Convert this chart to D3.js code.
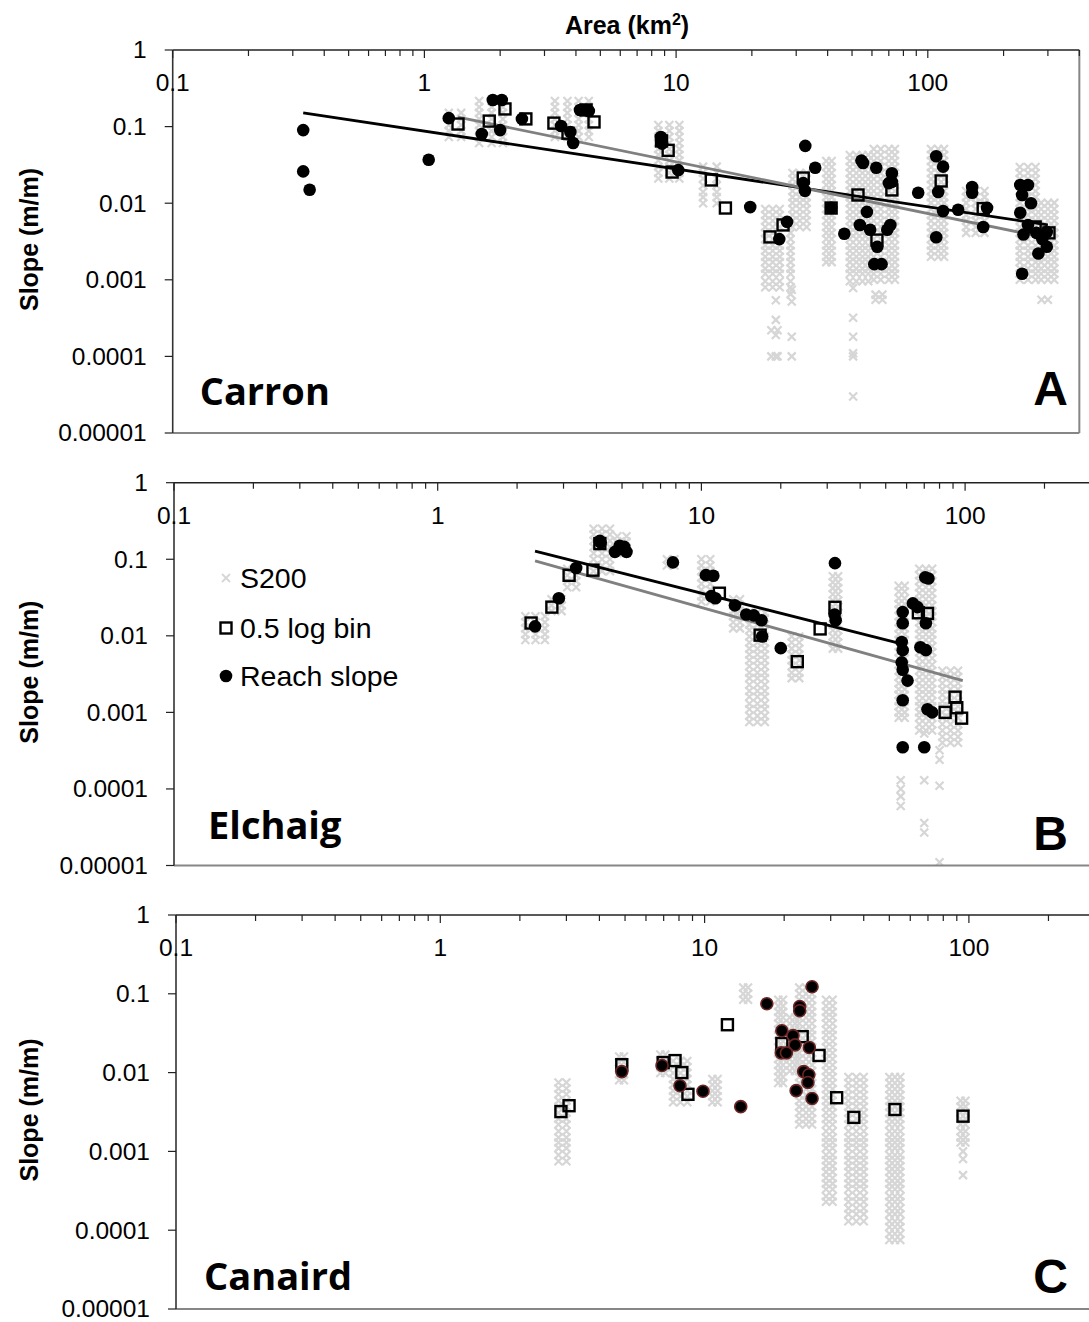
<!DOCTYPE html>
<meta charset="utf-8">
<style>
body { margin: 0; background: #fff; }
svg text { font-family: "Liberation Sans", Arial, sans-serif; fill: #000; }
.tick-label { font-size: 24.5px; }
.axis-title { font-size: 25px; font-weight: bold; }
.site { font-family: "Open Sans", sans-serif; font-weight: bold; font-size: 38px; }
.letter { font-weight: bold; font-size: 48px; }
.legend { font-size: 28.5px; }
</style>
<svg width="1089" height="1322"></svg>
<script src="https://d3js.org/d3.v7.min.js"></script>
<script>

// Slope tick labels (y) and area tick labels (x)
var yTicks = [1, 0.1, 0.01, 0.001, 0.0001, 0.00001];
var yTickLabels = ["1", "0.1", "0.01", "0.001", "0.0001", "0.00001"];
var xTicks = [0.1, 1, 10, 100];
var xTickLabels = ["0.1", "1", "10", "100"];

// S200 columns: [areas across the column, slopes down the column]
var s200A = [
  [[1.25, 1.4], [0.151, 0.126, 0.105, 0.088, 0.073]],
  [[1.65, 1.85, 2.05], [0.216, 0.18, 0.151, 0.126, 0.105, 0.088, 0.073, 0.061]],
  [[3.3, 3.7, 4.1, 4.5], [0.216, 0.18, 0.151, 0.126, 0.105, 0.088, 0.073]],
  [[8.5, 9.4, 10.3], [0.105, 0.088, 0.073, 0.061, 0.051, 0.043, 0.036, 0.03, 0.025, 0.021]],
  [[12.8, 14.5], [0.03, 0.025, 0.021, 0.017, 0.014, 0.012, 0.01]],
  [[22.6, 24.2, 25.8], [0.0084, 0.007, 0.0059, 0.0049, 0.0041, 0.0034, 0.0028, 0.0024, 0.002, 0.0017, 0.0014, 0.0012, 0.00096, 0.0008]],
  [[24.9], [0.00054, 0.0003, 0.00019, 0.0001]],
  [[23.9, 25.3], [0.00022, 0.0001]],
  [[28.8], [0.00074, 0.00052, 0.00018, 0.0001]],
  [[29, 31, 33], [0.0248, 0.0207, 0.0173, 0.0144, 0.012, 0.0101, 0.0084, 0.007, 0.0059, 0.0049]],
  [[28.5], [0.0041, 0.0034, 0.0028, 0.0024, 0.002, 0.0017, 0.0014, 0.0012, 0.00096, 0.0008, 0.00065]],
  [[39.5, 41.5], [0.0356, 0.0297, 0.0248, 0.0207, 0.0173, 0.0144, 0.012, 0.0101, 0.0084, 0.007, 0.0059, 0.0049, 0.0041, 0.0034, 0.0028, 0.0024, 0.002, 0.0017]],
  [[49, 52, 55, 58], [0.0426, 0.0356, 0.0297, 0.0248, 0.0207, 0.0173, 0.0144, 0.012, 0.0101, 0.0084, 0.007, 0.0059, 0.0049, 0.0041, 0.0034, 0.0028, 0.0024, 0.002, 0.0017, 0.0014, 0.0012, 0.00096]],
  [[50.5], [0.00078, 0.00032, 0.00018, 0.00011, 0.0001, 0.00003]],
  [[61, 65, 70, 74], [0.051, 0.0426, 0.0356, 0.0297, 0.0248, 0.0207, 0.0173, 0.0144, 0.012, 0.0101, 0.0084, 0.007, 0.0059, 0.0049, 0.0041, 0.0034, 0.0028, 0.0024, 0.002, 0.0017, 0.0014, 0.0012, 0.001]],
  [[62, 66], [0.00064, 0.00055]],
  [[103, 110, 116], [0.051, 0.0426, 0.0356, 0.0297, 0.0248, 0.0207, 0.0173, 0.0144, 0.012, 0.0101, 0.0084, 0.007, 0.0059, 0.0049, 0.0041, 0.0034, 0.0028, 0.0024, 0.002]],
  [[142, 155, 168], [0.0144, 0.012, 0.0101, 0.0084, 0.007, 0.0059, 0.0049, 0.0041]],
  [[232, 250, 268], [0.0297, 0.0248, 0.0207, 0.0173, 0.0144, 0.012, 0.0101, 0.0084, 0.007, 0.0059, 0.0049, 0.0041, 0.0034, 0.0028, 0.0024, 0.002, 0.0017, 0.0014, 0.0012, 0.001]],
  [[282, 300, 318], [0.0101, 0.0084, 0.007, 0.0059, 0.0049, 0.0041, 0.0034, 0.0028, 0.0024, 0.002, 0.0017, 0.0014, 0.0012, 0.001]],
  [[283, 300], [0.00055]]
];

var s200B = [
  [[2.15, 2.35, 2.55], [0.018, 0.015, 0.0125, 0.0105, 0.0088]],
  [[2.7, 2.95], [0.03, 0.025, 0.021]],
  [[3.1, 3.35], [0.075, 0.062, 0.052, 0.043]],
  [[3.9, 4.2, 4.5], [0.25, 0.21, 0.175, 0.145, 0.12, 0.1, 0.083, 0.07]],
  [[4.8, 5.2], [0.2, 0.17, 0.14, 0.12]],
  [[7.4, 7.9], [0.1, 0.083]],
  [[10.0, 10.8], [0.1, 0.083, 0.07, 0.058, 0.048, 0.04, 0.033, 0.028]],
  [[13.2, 14], [0.03, 0.025, 0.021, 0.018, 0.015, 0.0125]],
  [[15.2, 16.3, 17.4], [0.02, 0.017, 0.014, 0.0118, 0.0098, 0.0082, 0.0068, 0.0057, 0.0048, 0.004, 0.0033, 0.0028, 0.0023, 0.0019, 0.0016, 0.0013, 0.0011, 0.0009, 0.00075]],
  [[22, 23.5], [0.0098, 0.0082, 0.0068, 0.0057, 0.0048, 0.004, 0.0033, 0.0028]],
  [[31.5, 33], [0.06, 0.05, 0.042, 0.035, 0.029, 0.024, 0.02, 0.017, 0.014, 0.0118, 0.0098, 0.0082, 0.0068]],
  [[56, 59], [0.045, 0.038, 0.031, 0.026, 0.022, 0.018, 0.015, 0.0125, 0.0105, 0.0088, 0.0073, 0.0061, 0.0051, 0.0042, 0.0035, 0.0029, 0.0024, 0.002, 0.0017, 0.0014, 0.0012, 0.001, 0.00085]],
  [[57], [0.00013, 0.0001, 0.00008, 0.00006]],
  [[67, 71, 75], [0.075, 0.062, 0.052, 0.043, 0.036, 0.03, 0.025, 0.021, 0.018, 0.015, 0.0125, 0.0105, 0.0088, 0.0073, 0.0061, 0.0051, 0.0042, 0.0035, 0.0029, 0.0024, 0.002, 0.0017, 0.0014, 0.0012, 0.001, 0.00085, 0.0007, 0.00058]],
  [[70], [0.00053, 0.00013, 0.000036, 0.000027]],
  [[82, 88, 94], [0.0035, 0.0029, 0.0024, 0.002, 0.0017, 0.0014, 0.0012, 0.001, 0.00085, 0.0007, 0.00058, 0.00048, 0.0004]],
  [[80], [0.00032, 0.00024, 0.00011, 0.000011]]
];

var s200C = [
  [[2.8, 3.0], [0.0075, 0.0063, 0.0053, 0.0044, 0.0037, 0.0031, 0.0026, 0.0022, 0.0018, 0.0015, 0.0013, 0.0011, 0.0009, 0.00075]],
  [[4.75, 4.95], [0.016, 0.0135, 0.0113, 0.0095, 0.008]],
  [[6.8, 7.1], [0.017, 0.014, 0.0118, 0.0099]],
  [[7.6, 8.1, 8.6], [0.014, 0.0118, 0.0099, 0.0083, 0.007, 0.0059, 0.005, 0.0042]],
  [[10.7, 11.2], [0.0083, 0.007, 0.0059, 0.005, 0.0042]],
  [[14.0, 14.6], [0.12, 0.1, 0.084]],
  [[19.0, 19.8], [0.084, 0.07, 0.059, 0.05, 0.042, 0.035, 0.03, 0.025, 0.021, 0.0177, 0.0149, 0.0125, 0.0105, 0.0088, 0.0074]],
  [[21, 22], [0.05, 0.042, 0.035, 0.03, 0.025, 0.021, 0.0177, 0.0149, 0.0125, 0.0105]],
  [[22.8, 24.2, 25.5], [0.12, 0.1, 0.084, 0.07, 0.059, 0.05, 0.042, 0.035, 0.03, 0.025, 0.021, 0.0177, 0.0149, 0.0125, 0.0105, 0.0088, 0.0074, 0.0062, 0.0052, 0.0044, 0.0037, 0.0031, 0.0026, 0.0022]],
  [[28.8, 30.5], [0.084, 0.07, 0.059, 0.05, 0.042, 0.035, 0.03, 0.025, 0.021, 0.0177, 0.0149, 0.0125, 0.0105, 0.0088, 0.0074, 0.0062, 0.0052, 0.0044, 0.0037, 0.0031, 0.0026, 0.0022, 0.0018, 0.0015, 0.0013, 0.0011, 0.0009, 0.00077, 0.00065, 0.00055, 0.00046, 0.00039, 0.00033, 0.00027, 0.00023]],
  [[35, 37.5, 40], [0.0088, 0.0074, 0.0062, 0.0052, 0.0044, 0.0037, 0.0031, 0.0026, 0.0022, 0.0018, 0.0015, 0.0013, 0.0011, 0.0009, 0.00077, 0.00065, 0.00055, 0.00046, 0.00039, 0.00033, 0.00027, 0.00023, 0.00019, 0.00016, 0.00013]],
  [[50, 52.5, 55], [0.0088, 0.0074, 0.0062, 0.0052, 0.0044, 0.0037, 0.0031, 0.0026, 0.0022, 0.0018, 0.0015, 0.0013, 0.0011, 0.0009, 0.00077, 0.00065, 0.00055, 0.00046, 0.00039, 0.00033, 0.00027, 0.00023, 0.00019, 0.00016, 0.00013, 0.00011, 0.00009, 0.000075]],
  [[93, 97], [0.0044, 0.0037, 0.0031, 0.0026, 0.0022, 0.0018, 0.0015, 0.0013]],
  [[95], [0.001, 0.0008, 0.0005]]
];

// 0.5 log bin means [area, slope]
var binA = [[1.36, 0.108], [1.81, 0.118], [2.09, 0.17], [2.53, 0.126], [3.27, 0.111], [3.72, 0.082],
  [4.39, 0.165], [4.72, 0.115], [8.75, 0.065], [9.3, 0.049], [9.64, 0.0255], [13.8, 0.0201],
  [15.7, 0.00865], [23.6, 0.00363], [26.6, 0.0052], [32, 0.0213], [41.3, 0.00865], [52.8, 0.0128],
  [62.8, 0.0033], [72, 0.0149], [113, 0.0195], [166, 0.0085], [267, 0.0049], [303, 0.0041]];
var binB = [[2.26, 0.0147], [2.71, 0.0237], [3.15, 0.0617], [3.88, 0.072], [4.12, 0.16], [11.7, 0.036],
  [16.7, 0.0102], [23.1, 0.0046], [28.2, 0.0123], [32.1, 0.0236], [66.5, 0.02], [72, 0.0196],
  [84, 0.001], [91.6, 0.00158], [93, 0.00115], [97, 0.00084]];
var binC = [[2.86, 0.0032], [3.07, 0.0038], [4.86, 0.0126], [6.97, 0.0134], [7.73, 0.0142], [8.2, 0.01],
  [8.65, 0.0053], [12.2, 0.0405], [19.6, 0.0234], [23.4, 0.0286], [27.1, 0.0165], [31.6, 0.0048],
  [36.7, 0.0027], [52.5, 0.0034], [95, 0.0028]];

// Reach slopes [area, slope]
var reachA = [[0.33, 0.09], [0.33, 0.026], [0.35, 0.015], [1.04, 0.037], [1.25, 0.129], [1.69, 0.08],
  [1.87, 0.222], [2.03, 0.222], [2.0, 0.09], [2.44, 0.126], [3.49, 0.102], [3.8, 0.085], [3.9, 0.061],
  [4.15, 0.165], [4.4, 0.165], [4.5, 0.16], [8.7, 0.073], [8.8, 0.06], [10.2, 0.027], [19.7, 0.0089],
  [25.7, 0.0034], [27.6, 0.0057], [32.6, 0.056], [35.7, 0.029], [32, 0.0183], [32.5, 0.0145],
  [41.3, 0.0087], [46.6, 0.004], [55.3, 0.0335], [54.5, 0.036], [62.4, 0.029], [57.3, 0.0077],
  [53.7, 0.0052], [59, 0.0045], [63, 0.0027], [61.3, 0.0016], [65.5, 0.0016], [72, 0.0246], [72, 0.019],
  [70, 0.0183], [71, 0.0052], [69, 0.0045], [91.6, 0.0137], [108, 0.041], [115, 0.03], [110, 0.014],
  [108, 0.0036], [115, 0.0079], [132, 0.0082], [150, 0.0163], [150, 0.0137], [172, 0.0087], [166, 0.0049],
  [233, 0.0173], [250, 0.0173], [237, 0.0128], [257, 0.01], [233, 0.0075], [250, 0.0052], [240, 0.0039],
  [270, 0.0041], [285, 0.0034], [297, 0.0027], [275, 0.0022], [237, 0.0012], [297, 0.0042]];
var reachB = [[2.34, 0.0133], [2.88, 0.031], [3.35, 0.077], [4.12, 0.174], [4.15, 0.165], [4.9, 0.15],
  [5.0, 0.135], [5.1, 0.145], [4.7, 0.125], [5.2, 0.125], [7.8, 0.091], [10.4, 0.062], [11.1, 0.061],
  [10.9, 0.033], [11.3, 0.031], [13.4, 0.025], [14.8, 0.019], [15.8, 0.0185], [16.9, 0.016], [17, 0.0098],
  [20, 0.0069], [32.1, 0.089], [32, 0.019], [32.3, 0.016], [58, 0.0204], [58, 0.0146], [57.5, 0.0083],
  [58, 0.0065], [57.5, 0.0045], [58, 0.0036], [60.5, 0.0026], [58, 0.00144], [58, 0.00035], [63.4, 0.0265],
  [66, 0.0237], [70.6, 0.058], [72.6, 0.056], [71, 0.0146], [67.7, 0.0071], [71, 0.0065], [72, 0.0011],
  [75, 0.001], [70, 0.00035]];
var reachC = [[4.86, 0.0103], [6.9, 0.0123], [8.07, 0.0068], [9.86, 0.0058], [13.7, 0.0037], [17.2, 0.0747],
  [25.5, 0.123], [22.9, 0.069], [22.9, 0.061], [19.6, 0.034], [21.6, 0.0295], [22, 0.0225], [24.9, 0.0208],
  [19.5, 0.0178], [20.4, 0.0178], [23.7, 0.0103], [24.8, 0.0094], [24.6, 0.0075], [22.2, 0.0059], [25.5, 0.0047]];

// Power-law fits, drawn between their end points [area, slope]
var fitReachA = [[0.33, 0.151], [300, 0.0052]];
var fitBinA = [[1.36, 0.133], [300, 0.0035]];
var fitReachB = [[2.34, 0.128], [58, 0.0078]];
var fitBinB = [[2.34, 0.095], [98, 0.0026]];

var panels = [
  {name: "Carron", letter: "A", left: 172.7, top: 50, bottom: 433, xMax: 400, decade: 251.7,
   s200: s200A, bins: binA, reach: reachA, fits: [fitReachA, fitBinA], frame: true,
   nameX: 27, nameY: 28, letterY: 28},
  {name: "Elchaig", letter: "B", left: 174, top: 482.7, bottom: 865.5, xMax: 300, decade: 263.7,
   s200: s200B, bins: binB, reach: reachB, fits: [fitReachB, fitBinB], frame: false,
   nameX: 34, nameY: 27, letterY: 16},
  {name: "Canaird", letter: "C", left: 176, top: 915, bottom: 1309, xMax: 300, decade: 264.3,
   s200: s200C, bins: binC, reach: reachC, fits: [], frame: false, redRim: true,
   nameX: 28, nameY: 19, letterY: 16}
];

var svg = d3.select("svg");
var cross = "M-4,-4L4,4M-4,4L4,-4";

panels.forEach(function(p, i) {
  var right = p.left + p.decade * Math.log10(p.xMax / 0.1);
  var x = d3.scaleLog().domain([0.1, p.xMax]).range([p.left, right]);
  var y = d3.scaleLog().domain([0.00001, 1]).range([p.bottom, p.top]);
  var g = svg.append("g");

  g.append("clipPath").attr("id", "clip" + i)
    .append("rect")
    .attr("x", p.left).attr("y", p.top)
    .attr("width", right - p.left).attr("height", p.bottom - p.top);

  var plot = g.append("g").attr("clip-path", "url(#clip" + i + ")");

  // S200 crosses
  var pts = [];
  p.s200.forEach(function(col) {
    col[1].forEach(function(s) {
      col[0].forEach(function(a) { pts.push([a, s]); });
    });
  });
  plot.selectAll("path.s200").data(pts).enter().append("path")
    .attr("class", "s200")
    .attr("d", cross)
    .attr("transform", function(d) { return "translate(" + x(d[0]) + "," + y(d[1]) + ")"; })
    .attr("stroke", "#d6d6d6")
    .attr("stroke-width", 2.2)
    .attr("fill", "none");

  // fitted lines
  var line = d3.line().x(function(d) { return x(d[0]); }).y(function(d) { return y(d[1]); });
  p.fits.forEach(function(f, k) {
    plot.append("path")
      .attr("d", line(f))
      .attr("stroke", k === 0 ? "#000" : "#808080")
      .attr("stroke-width", 2.8)
      .attr("fill", "none");
  });

  plot.selectAll("rect.bin").data(p.bins).enter().append("rect")
    .attr("class", "bin")
    .attr("x", function(d) { return x(d[0]) - 5.5; })
    .attr("y", function(d) { return y(d[1]) - 5.5; })
    .attr("width", 11).attr("height", 11)
    .attr("fill", "none")
    .attr("stroke", "#000")
    .attr("stroke-width", 2.4);

  plot.selectAll("circle.reach").data(p.reach).enter().append("circle")
    .attr("class", "reach")
    .attr("cx", function(d) { return x(d[0]); })
    .attr("cy", function(d) { return y(d[1]); })
    .attr("r", p.redRim ? 6 : 6.3)
    .attr("fill", "#000")
    .attr("stroke", p.redRim ? "#6b2525" : "none")
    .attr("stroke-width", 1.6);

  // frame: grey bottom and right, dark axes at top and left
  g.append("line").attr("x1", p.left).attr("x2", right).attr("y1", p.bottom).attr("y2", p.bottom)
    .attr("stroke", "#868686").attr("stroke-width", 2);
  if (p.frame) {
    g.append("line").attr("x1", right).attr("x2", right).attr("y1", p.top).attr("y2", p.bottom)
      .attr("stroke", "#868686").attr("stroke-width", 2);
  }
  g.append("line").attr("x1", p.left).attr("x2", right).attr("y1", p.top).attr("y2", p.top)
    .attr("stroke", "#222").attr("stroke-width", 1.6);
  g.append("line").attr("x1", p.left).attr("x2", p.left).attr("y1", p.top).attr("y2", p.bottom)
    .attr("stroke", "#333").attr("stroke-width", 1.6);

  // x ticks: decades and minors, pointing into the plot
  var minor = [];
  for (var e = -1; e <= 2; e++) {
    for (var m = 1; m <= 9; m++) {
      var v = m * Math.pow(10, e);
      if (v >= 0.1 && v <= p.xMax) minor.push(v);
    }
  }
  g.selectAll("line.xt").data(minor).enter().append("line")
    .attr("x1", function(d) { return x(d); }).attr("x2", function(d) { return x(d); })
    .attr("y1", p.top).attr("y2", function(d) { return p.top + (xTicks.indexOf(+d.toPrecision(3)) >= 0 ? 8 : 6); })
    .attr("stroke", "#222").attr("stroke-width", 1.2);

  g.selectAll("text.xl").data(xTicks).enter().append("text")
    .attr("class", "tick-label")
    .attr("x", function(d) { return x(d); })
    .attr("y", p.top + 41)
    .attr("text-anchor", "middle")
    .text(function(d, k) { return xTickLabels[k]; });

  g.selectAll("line.yt").data(yTicks).enter().append("line")
    .attr("x1", p.left - 8).attr("x2", p.left)
    .attr("y1", function(d) { return y(d); }).attr("y2", function(d) { return y(d); })
    .attr("stroke", "#222").attr("stroke-width", 1.2);

  g.selectAll("text.yl").data(yTicks).enter().append("text")
    .attr("class", "tick-label")
    .attr("x", p.left - 26)
    .attr("y", function(d) { return y(d); })
    .attr("dy", "0.34em")
    .attr("text-anchor", "end")
    .text(function(d, k) { return yTickLabels[k]; });

  g.append("text")
    .attr("class", "axis-title")
    .attr("transform", "translate(38," + ((p.top + p.bottom) / 2 - 2) + ") rotate(-90)")
    .attr("text-anchor", "middle")
    .text("Slope (m/m)");

  g.append("text").attr("class", "site")
    .attr("x", p.left + p.nameX).attr("y", p.bottom - p.nameY)
    .text(p.name);
  g.append("text").attr("class", "letter")
    .attr("x", 1068).attr("y", p.bottom - p.letterY)
    .attr("text-anchor", "end")
    .text(p.letter);

  // legend sits in the Elchaig panel
  if (p.letter === "B") {
    var lg = g.append("g");
    lg.append("path").attr("d", cross).attr("transform", "translate(226,578)")
      .attr("stroke", "#d6d6d6").attr("stroke-width", 1.8);
    lg.append("rect").attr("x", 220.5).attr("y", 622.5).attr("width", 11).attr("height", 11)
      .attr("fill", "none").attr("stroke", "#000").attr("stroke-width", 2.4);
    lg.append("circle").attr("cx", 226).attr("cy", 676).attr("r", 6.3).attr("fill", "#000");
    var labels = ["S200", "0.5 log bin", "Reach slope"];
    [578, 628, 676].forEach(function(ly, k) {
      lg.append("text").attr("class", "legend").attr("x", 240).attr("y", ly).attr("dy", "0.36em").text(labels[k]);
    });
  }
});

svg.append("text")
  .attr("class", "axis-title")
  .attr("x", 627).attr("y", 34)
  .attr("text-anchor", "middle")
  .html("Area (km<tspan dy='-9' font-size='16'>2</tspan><tspan dy='9'>)</tspan>");

</script>
